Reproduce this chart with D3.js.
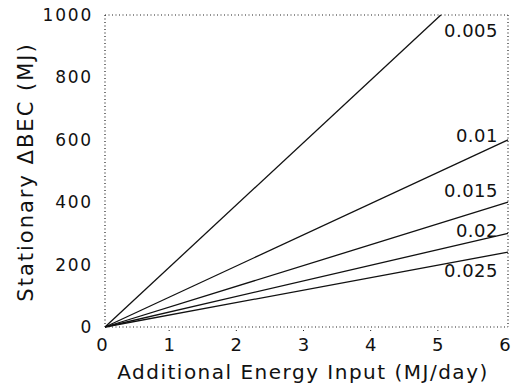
<!DOCTYPE html>
<html>
<head>
<meta charset="utf-8">
<script src="https://cdn.jsdelivr.net/npm/d3@7"></script>
<style>
  body { margin: 0; background: #fff; }
  text { font-family: "DejaVu Sans", sans-serif; fill: #111; }
</style>
</head>
<body>
<svg id="chart" width="516" height="391"></svg>
<script>
// data
const rates = [0.005, 0.01, 0.015, 0.02, 0.025];
const rateLabels = ['0.005', '0.01', '0.015', '0.02', '0.025'];
const xEnds = [5, 6, 6, 6, 6];            // where each line stops
const xTicks = [0, 1, 2, 3, 4, 5, 6];
const yTicks = [0, 200, 400, 600, 800, 1000];

// label baselines (px from top of plot)
const labelTop = [22, 127, 182, 222, 262];

const margin = {top: 15, right: 8, bottom: 64, left: 105};
const svg = d3.select('#chart');
const width = 516 - margin.left - margin.right;
const height = 391 - margin.top - margin.bottom;
const g = svg.append('g').attr('transform', `translate(${margin.left},${margin.top})`);

const x = d3.scaleLinear().domain([0, 6]).range([0, width]);
const y = d3.scaleLinear().domain([0, 1000]).range([height, 0]);

// dotted frame
const dots = '1,2.5';
[[0, 0, width, 0], [0, height, width, height], [0, 0, 0, height], [width, 0, width, height]].forEach(d => {
  g.append('line')
    .attr('x1', d[0]).attr('y1', d[1]).attr('x2', d[2]).attr('y2', d[3])
    .attr('stroke', '#222').attr('stroke-width', 1.2)
    .attr('stroke-dasharray', dots);
});

// axes
const xAxis = g.append('g').attr('transform', `translate(0,${height})`)
  .call(d3.axisBottom(x).tickValues(xTicks).tickSize(0).tickPadding(11).tickFormat(d3.format('d')));
const yAxis = g.append('g')
  .call(d3.axisLeft(y).tickValues(yTicks).tickSize(0).tickPadding(12).tickFormat(d3.format('d')));
[xAxis, yAxis].forEach(a => {
  a.select('.domain').remove();
  a.selectAll('text').attr('font-size', 17).attr('letter-spacing', 1.8)
    .attr('font-family', '"DejaVu Sans", sans-serif').attr('fill', '#111');
});
xAxis.selectAll('text').attr('font-size', 18).attr('letter-spacing', 0).attr('dx', -3.5);

// small tick dots under x axis
g.selectAll('.xt').data(xTicks.slice(1, 6)).enter().append('line')
  .attr('x1', d => x(d) - 3).attr('x2', d => x(d) - 3)
  .attr('y1', height + 3).attr('y2', height + 6)
  .attr('stroke', '#222').attr('stroke-dasharray', '1,2');

// lines: stationary BEC = input / rate
const line = d3.line().x(d => x(d[0])).y(d => y(d[1]));
g.selectAll('.rate').data(rates).enter().append('path')
  .attr('d', (r, i) => line([[0, 0], [xEnds[i], xEnds[i] / r]]))
  .attr('fill', 'none').attr('stroke', '#111').attr('stroke-width', 1.3);

// line labels
g.selectAll('.lab').data(rateLabels).enter().append('text')
  .attr('x', x(6) - 10).attr('y', (d, i) => labelTop[i])
  .attr('text-anchor', 'end').attr('font-size', 18).attr('letter-spacing', 0.5)
  .text(d => d);

// axis titles
svg.append('text')
  .attr('x', 303).attr('y', 379)
  .attr('text-anchor', 'middle').attr('font-size', 20).attr('letter-spacing', 1.5)
  .text('Additional Energy Input (MJ/day)');
svg.append('text')
  .attr('transform', `translate(33,172) rotate(-90)`)
  .attr('text-anchor', 'middle').attr('font-size', 21).attr('letter-spacing', 2)
  .text('Stationary  \u0394BEC  (MJ)');
</script>
</body>
</html>
